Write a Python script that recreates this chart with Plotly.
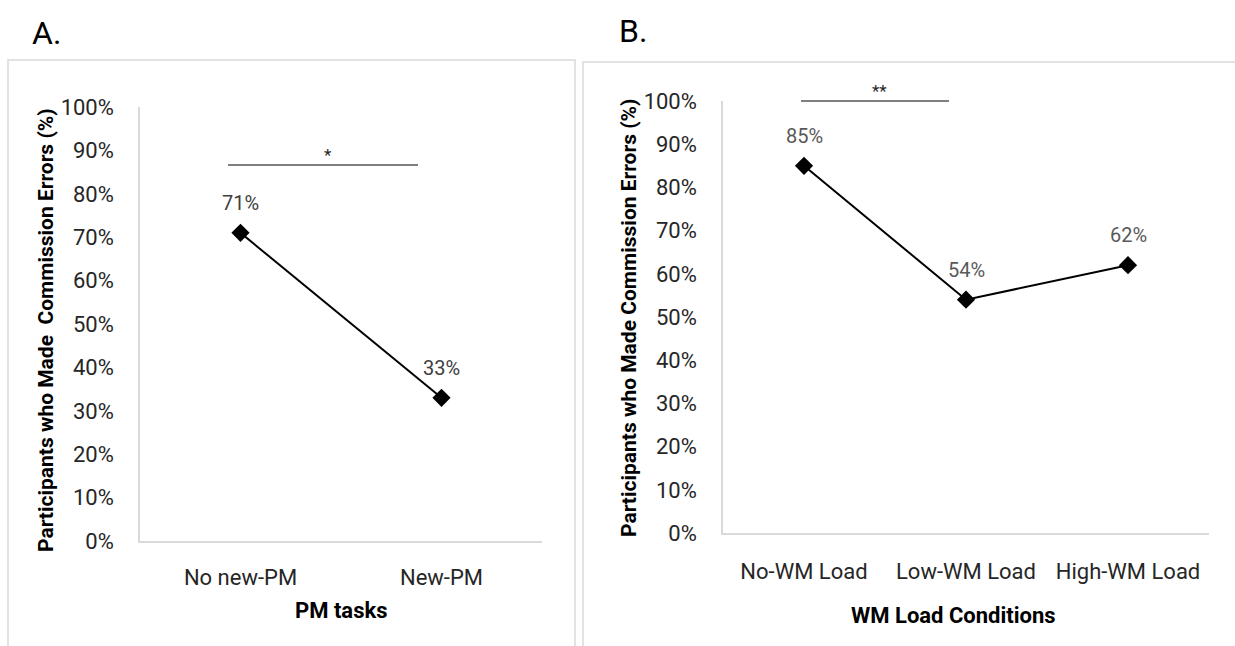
import plotly.graph_objects as go

W, H = 1235, 646

# ---- data ----
pm_tasks = ["No new-PM", "New-PM"]
pm_values = [0.71, 0.33]

wm_conditions = ["No-WM Load", "Low-WM Load", "High-WM Load"]
wm_values = [0.85, 0.54, 0.62]

y_ticks = [0, 0.1, 0.2, 0.3, 0.4, 0.5, 0.6, 0.7, 0.8, 0.9, 1.0]
y_tick_labels = ["0%", "10%", "20%", "30%", "40%", "50%", "60%", "70%", "80%", "90%", "100%"]

FONT = "Liberation Sans Narrow, Arial Narrow, Roboto, sans-serif"


def px_x(p):
    return p / W


def px_y(p):
    return 1 - p / H


fig = go.Figure()

fig.add_trace(go.Scatter(
    x=pm_tasks, y=pm_values, mode="lines+markers",
    line=dict(color="black", width=2),
    marker=dict(symbol="diamond", size=14, color="black"),
    xaxis="x", yaxis="y", showlegend=False, hoverinfo="skip"))

fig.add_trace(go.Scatter(
    x=wm_conditions, y=wm_values, mode="lines+markers",
    line=dict(color="black", width=2),
    marker=dict(symbol="diamond", size=14, color="black"),
    xaxis="x2", yaxis="y2", showlegend=False, hoverinfo="skip"))

axis_common = dict(showgrid=False, zeroline=False, showline=True, automargin=False,
                   linecolor="#d9d9d9", linewidth=1.5, fixedrange=True,
                   tickfont=dict(family=FONT, size=22, color="#262626"))

fig.update_layout(
    template="none",
    width=W, height=H,
    margin=dict(l=0, r=0, t=0, b=0, pad=0, autoexpand=False),
    paper_bgcolor="white", plot_bgcolor="white",
    font=dict(family=FONT),
    xaxis=dict(domain=[px_x(140), px_x(542)], anchor="y", type="category",
               range=[-0.5, 1.5], ticks="outside", ticklen=16,
               tickcolor="rgba(0,0,0,0)", **axis_common),
    yaxis=dict(domain=[px_y(541), px_y(107)], anchor="x", range=[0, 1],
               tickvals=y_ticks, ticktext=y_tick_labels,
               ticks="outside", ticklen=20, tickcolor="rgba(0,0,0,0)",
               **axis_common),
    xaxis2=dict(domain=[px_x(723), px_x(1209)], anchor="y2", type="category",
                range=[-0.5, 2.5], ticks="outside", ticklen=18,
                tickcolor="rgba(0,0,0,0)", **axis_common),
    yaxis2=dict(domain=[px_y(533), px_y(101)], anchor="x2", range=[0, 1],
                tickvals=y_ticks, ticktext=y_tick_labels,
                ticks="outside", ticklen=20, tickcolor="rgba(0,0,0,0)",
                **axis_common),
)

shapes = []
# panel borders
shapes.append(dict(type="rect", xref="paper", yref="paper",
                   x0=px_x(8), x1=px_x(575), y0=px_y(700), y1=px_y(60),
                   line=dict(color="#d9d9d9", width=1.5), fillcolor="rgba(0,0,0,0)"))
shapes.append(dict(type="rect", xref="paper", yref="paper",
                   x0=px_x(583), x1=px_x(1260), y0=px_y(700), y1=px_y(62),
                   line=dict(color="#d9d9d9", width=1.5), fillcolor="rgba(0,0,0,0)"))
# significance bars
shapes.append(dict(type="line", xref="paper", yref="paper",
                   x0=px_x(228), x1=px_x(418), y0=px_y(165), y1=px_y(165),
                   line=dict(color="black", width=1)))
shapes.append(dict(type="line", xref="paper", yref="paper",
                   x0=px_x(801), x1=px_x(949), y0=px_y(101), y1=px_y(101),
                   line=dict(color="black", width=1)))
fig.update_layout(shapes=shapes)

C = dict(xanchor="center", yanchor="middle", showarrow=False)
ann = []
# data labels
for cat, v in zip(pm_tasks, pm_values):
    ann.append(dict(x=cat, y=v, xref="x", yref="y", text=f"{round(v*100)}%",
                    yshift=30, **C,
                    font=dict(family=FONT, size=20, color="#404040")))
for cat, v in zip(wm_conditions, wm_values):
    ann.append(dict(x=cat, y=v, xref="x2", yref="y2", text=f"{round(v*100)}%",
                    yshift=30, **C,
                    font=dict(family=FONT, size=20, color="#595959")))
# significance stars
ann.append(dict(x=px_x(328), y=px_y(155), xref="paper", yref="paper", text="*", **C,
                font=dict(family=FONT, size=17, color="#262626")))
ann.append(dict(x=px_x(880), y=px_y(91), xref="paper", yref="paper", text="**", **C,
                font=dict(family=FONT, size=17, color="#262626")))
# axis titles
ann.append(dict(x=px_x(341), y=px_y(610), xref="paper", yref="paper",
                text="<b>PM tasks</b>", **C,
                font=dict(family=FONT, size=22, color="black")))
ann.append(dict(x=px_x(953), y=px_y(615), xref="paper", yref="paper",
                text="<b>WM Load Conditions</b>", **C,
                font=dict(family=FONT, size=22, color="black")))
ann.append(dict(x=px_x(46), y=px_y(330), xref="paper", yref="paper",
                text="<b>Participants who Made\u00a0 Commission Errors (%)</b>",
                textangle=-90, **C,
                font=dict(family=FONT, size=21, color="black")))
ann.append(dict(x=px_x(629), y=px_y(318), xref="paper", yref="paper",
                text="<b>Participants who Made Commission Errors (%)</b>",
                textangle=-90, **C,
                font=dict(family=FONT, size=21, color="black")))
# panel labels
ann.append(dict(x=px_x(46), y=px_y(33), xref="paper", yref="paper", text="A.", **C,
                font=dict(family=FONT, size=32, color="black")))
ann.append(dict(x=px_x(633), y=px_y(31), xref="paper", yref="paper", text="B.", **C,
                font=dict(family=FONT, size=32, color="black")))
fig.update_layout(annotations=ann)

fig.write_html("out.html")
